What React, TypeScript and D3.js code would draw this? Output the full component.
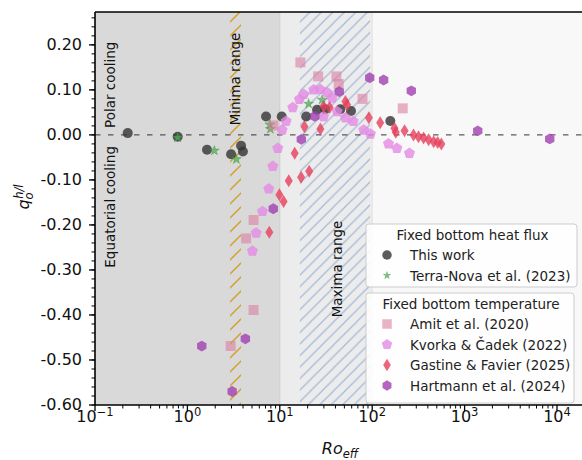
import React from 'react';
import * as d3 from 'd3';

const W = 582;
const H = 460;
const plot = { left: 95, right: 600, top: 12, bottom: 405 };

// Fixed bottom heat flux
const thisWorkRo = [0.226, 0.785, 1.63, 2.97, 3.81, 3.99, 7.1, 10.5, 19.3, 25.3, 31, 45.2, 59, 157];
const thisWorkQ = [0.004, -0.004, -0.033, -0.043, -0.024, -0.037, 0.041, 0.041, 0.041, 0.056, 0.057, 0.057, 0.053, 0.031];

const terraNovaRo = [0.785, 1.96, 3.39, 7.8, 7.9, 20.5, 28.7];
const terraNovaQ = [-0.006, -0.035, -0.054, 0.023, 0.013, 0.069, 0.078];

// Fixed bottom temperature
const amitRo = [2.94, 5.2, 4.32, 5.2, 8.5, 16.7, 26, 41, 43.4, 78.5, 214];
const amitQ = [-0.469, -0.389, -0.23, -0.189, 0.021, 0.161, 0.13, 0.13, 0.113, 0.08, 0.059];

const kvorkaRo = [5.05, 5.55, 6.5, 7.6, 8.4, 9.5, 10.6, 11.7, 13.8, 16.3, 18.1, 23.3, 27.5, 32.5, 36.7, 29.8, 41.7, 51.3, 62.3, 81, 95.6, 150, 185, 253];
const kvorkaQ = [-0.258, -0.218, -0.17, -0.12, -0.07, -0.03, 0.011, 0.03, 0.061, 0.079, 0.09, 0.1, 0.101, 0.094, 0.082, 0.041, 0.052, 0.038, 0.03, 0.011, 0.002, -0.02, -0.03, -0.041];

const gastineRo = [7.7, 9.9, 11, 12.5, 14.5, 17, 20.8, 18.5, 27.5, 29.8, 34.6, 51.3, 53.5, 92, 122, 174, 180, 224, 280, 317, 360, 408, 463, 511, 560];
const gastineQ = [-0.216, -0.133, -0.148, -0.102, -0.041, -0.094, -0.081, 0.018, 0.013, 0.063, 0.061, 0.074, 0.067, 0.038, 0.027, 0.015, 0.006, 0.009, 0.0, -0.004, -0.007, -0.011, -0.015, -0.017, -0.02];

const hartmannRo = [1.43, 3.05, 4.24, 8.5, 17.1, 23.9, 44, 94, 133, 265, 1387, 8340];
const hartmannQ = [-0.469, -0.57, -0.453, -0.164, -0.01, 0.041, 0.096, 0.127, 0.122, 0.098, 0.009, -0.009];

const yTicks = [-0.6, -0.5, -0.4, -0.3, -0.2, -0.1, 0, 0.1, 0.2];
const xTickExps = [-1, 0, 1, 2, 3, 4];

const minimaRange = [2.9, 3.8];
const maximaRange = [16.5, 95];

const x = d3.scaleLog().domain([0.1, 1e4]).range([95, 557]);
const y = d3.scaleLinear().domain([-0.6, 0.273]).range([405, 12]);

const polygon = (n: number, r: number) => {
  const pts = d3.range(n).map(i => {
    const a = -Math.PI / 2 + (i * 2 * Math.PI) / n;
    return [r * Math.cos(a), r * Math.sin(a)];
  });
  return 'M' + pts.map(p => p[0].toFixed(2) + ',' + p[1].toFixed(2)).join('L') + 'Z';
};

const shapes: Record<string, string> = {
  circle: d3.symbol(d3.symbolCircle, Math.PI * 25)() as string,
  star: d3.symbol(d3.symbolStar, 30)() as string,
  square: 'M-5,-5h10v10h-10Z',
  pentagon: polygon(5, 5.8),
  diamond: 'M0,-6.5L4,0L0,6.5L-4,0Z',
  hexagon: polygon(6, 5.4),
};

const series = [
  { name: 'This work', ro: thisWorkRo, q: thisWorkQ, shape: 'circle', fill: '#333333', op: 0.8 },
  { name: 'Terra-Nova et al. (2023)', ro: terraNovaRo, q: terraNovaQ, shape: 'star', fill: '#4caf50', op: 0.75 },
  { name: 'Amit et al. (2020)', ro: amitRo, q: amitQ, shape: 'square', fill: '#dc7fa0', op: 0.6 },
  { name: 'Kvorka & Čadek (2022)', ro: kvorkaRo, q: kvorkaQ, shape: 'pentagon', fill: '#e48ae4', op: 0.8 },
  { name: 'Gastine & Favier (2025)', ro: gastineRo, q: gastineQ, shape: 'diamond', fill: '#e63e5c', op: 0.8 },
  { name: 'Hartmann et al. (2024)', ro: hartmannRo, q: hartmannQ, shape: 'hexagon', fill: '#a040b0', op: 0.8 },
];

const font = 'DejaVu Sans, sans-serif';

const Marker = ({ s, cx, cy, k = 1 }: { s: any; cx: number; cy: number; k?: number }) => (
  <path
    d={shapes[s.shape]}
    transform={`translate(${cx},${cy}) scale(${k})`}
    fill={s.fill}
    fillOpacity={s.op}
    stroke={s.shape === 'star' ? '#2e7d32' : 'none'}
    strokeOpacity={0.5}
    strokeWidth={0.6}
  />
);

const LegendBox = ({ x0, y0, w, h, title, items }: any) => (
  <g>
    <rect x={x0} y={y0} width={w} height={h} rx={3} fill="#fff" fillOpacity={0.85} stroke="#cccccc" />
    <text x={x0 + w / 2 + 1} y={y0 + 16} textAnchor="middle" fontSize={13.5} fontFamily={font} fill="#222">{title}</text>
    {items.map((s: any, i: number) => (
      <g key={s.name}>
        <Marker s={s} cx={x0 + 21} cy={y0 + 31 + i * 20.5} k={s.shape === 'star' ? 0.75 : 0.95} />
        <text x={x0 + 44} y={y0 + 36 + i * 20.5} fontSize={13.5} fontFamily={font} fill="#222">{s.name}</text>
      </g>
    ))}
  </g>
);

export default function App() {
  const minorX: number[] = [];
  for (let e = -1; e <= 4; e++) for (let k = 2; k <= 9; k++) minorX.push(k * Math.pow(10, e));
  const minorY = d3.range(-30, 14).map(i => i * 0.02);

  return (
    <svg width={W} height={H} style={{ position: 'absolute', left: 0, top: 0 }}>
      <defs>
        <clipPath id="plotClip">
          <rect x={plot.left} y={plot.top} width={plot.right - plot.left} height={plot.bottom - plot.top} />
        </clipPath>
        <pattern id="hatchOrange" width={14} height={14} patternUnits="userSpaceOnUse">
          <path d="M0,14L14,0M-3,3L3,-3M11,17L17,11" stroke="#d4a030" strokeWidth={1.5} />
        </pattern>
        <pattern id="hatchBlue" width={11.5} height={11.5} patternUnits="userSpaceOnUse">
          <path d="M0,11.5L11.5,0M-3,3L3,-3M8.5,14.5L14.5,8.5" stroke="#a3b8d6" strokeWidth={1.2} />
        </pattern>
      </defs>

      <g clipPath="url(#plotClip)">
        <rect x={plot.left} y={plot.top} width={plot.right - plot.left} height={plot.bottom - plot.top} fill="#f8f8f8" />
        <rect x={x(0.1)} y={plot.top} width={x(10) - x(0.1)} height={plot.bottom - plot.top} fill="#d9d9d9" />
        <rect x={x(10)} y={plot.top} width={x(100) - x(10)} height={plot.bottom - plot.top} fill="#ececec" />
        <line x1={x(10)} x2={x(10)} y1={plot.top} y2={plot.bottom} stroke="#cccccc" />
        <line x1={x(100)} x2={x(100)} y1={plot.top} y2={plot.bottom} stroke="#e2e2e2" />
        <rect x={x(minimaRange[0])} y={plot.top} width={x(minimaRange[1]) - x(minimaRange[0])} height={plot.bottom - plot.top} fill="url(#hatchOrange)" />
        <rect x={x(maximaRange[0])} y={plot.top} width={x(maximaRange[1]) - x(maximaRange[0])} height={plot.bottom - plot.top} fill="url(#hatchBlue)" />

        <line x1={plot.left} x2={plot.right} y1={y(0)} y2={y(0)} stroke="#333" strokeWidth={1} strokeDasharray="5.5,7.5" />

        {series.map(s => (
          <g key={s.name}>
            {s.ro.map((r, i) => (
              <Marker key={i} s={s} cx={x(r)} cy={y(s.q[i])} />
            ))}
          </g>
        ))}
      </g>

      {/* annotations */}
      <text transform={`translate(115,128) rotate(-90)`} fontSize={13.5} fontFamily={font} fill="#111">Polar cooling</text>
      <text transform={`translate(115,146) rotate(-90)`} textAnchor="end" fontSize={13.5} fontFamily={font} fill="#111">Equatorial cooling</text>
      <text transform={`translate(240,79) rotate(-90)`} textAnchor="middle" fontSize={13.5} fontFamily={font} fill="#111">Minima range</text>
      <text transform={`translate(342,269) rotate(-90)`} textAnchor="middle" fontSize={13.5} fontFamily={font} fill="#111">Maxima range</text>

      {/* legends */}
      <LegendBox x0={366} y0={224} w={211} h={63} title="Fixed bottom heat flux" items={series.slice(0, 2)} />
      <LegendBox x0={366} y0={293} w={208} h={110} title="Fixed bottom temperature" items={series.slice(2)} />

      {/* spines */}
      <line x1={plot.left} x2={plot.right} y1={plot.top} y2={plot.top} stroke="#000" strokeWidth={1.6} />
      <line x1={plot.left} x2={plot.left} y1={plot.top} y2={plot.bottom} stroke="#000" strokeWidth={1.6} />
      <line x1={plot.left} x2={plot.right} y1={plot.bottom} y2={plot.bottom} stroke="#000" strokeWidth={1.6} />

      {/* y axis */}
      {minorY.map(v => (
        <line key={'my' + v} x1={plot.left - 3.5} x2={plot.left} y1={y(v)} y2={y(v)} stroke="#000" strokeWidth={1} />
      ))}
      {yTicks.map(v => (
        <g key={'y' + v}>
          <line x1={plot.left - 6} x2={plot.left} y1={y(v)} y2={y(v)} stroke="#000" strokeWidth={1.3} />
          <text x={82} y={y(v) - 1} dy="0.36em" textAnchor="end" fontSize={16} fontFamily={font} fill="#111">
            {v.toFixed(2)}
          </text>
        </g>
      ))}

      {/* x axis */}
      {minorX.filter(v => x(v) < W).map(v => (
        <line key={'mx' + v} x1={x(v)} x2={x(v)} y1={plot.bottom} y2={plot.bottom + 3.5} stroke="#000" strokeWidth={1} />
      ))}
      {xTickExps.map(e => (
        <g key={'x' + e}>
          <line x1={x(Math.pow(10, e))} x2={x(Math.pow(10, e))} y1={plot.bottom} y2={plot.bottom + 6} stroke="#000" strokeWidth={1.3} />
          <text x={x(Math.pow(10, e))} y={422} textAnchor="middle" fontSize={16} fontFamily={font} fill="#111">
            10<tspan dy={-6.5} fontSize={11.5}>{e < 0 ? '\u2212' + Math.abs(e) : e}</tspan>
          </text>
        </g>
      ))}

      {/* axis labels */}
      <text x={340} y={454} textAnchor="middle" fontSize={16} fontFamily={font} fontStyle="italic" fill="#111">
        Ro<tspan dy={4} fontSize={11.5}>eff</tspan>
      </text>
      <text transform="translate(29,197) rotate(-90)" textAnchor="middle" fontSize={16} fontFamily={font} fontStyle="italic" fill="#111">
        q<tspan dy={3.5} fontSize={11.5}>o</tspan><tspan dx={-6.5} dy={-10} fontSize={11.5}>h/l</tspan>
      </text>
    </svg>
  );
}
